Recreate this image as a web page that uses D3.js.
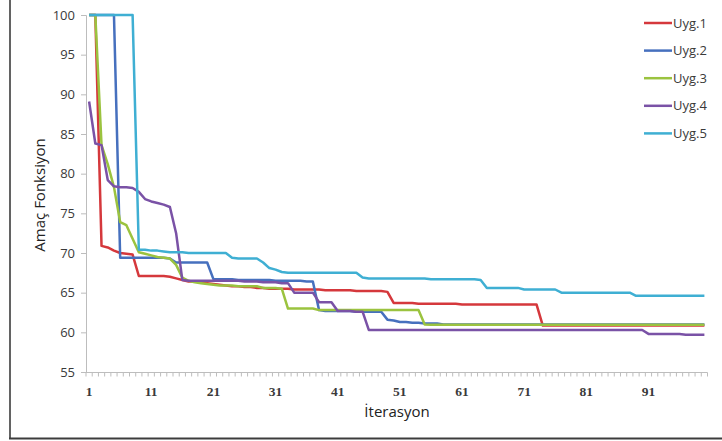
<!DOCTYPE html>
<html>
<head>
<meta charset="utf-8">
<script src="https://cdn.jsdelivr.net/npm/d3@7"></script>
<style>
  body { margin:0; background:#fff; }
  svg { display:block; }
</style>
</head>
<body>
<svg id="vis" width="722" height="441"></svg>
<script>
// iterations 1..100
var iters = d3.range(1, 101);
var xTickLabels = [1, 11, 21, 31, 41, 51, 61, 71, 81, 91];
var yTicks = [55, 60, 65, 70, 75, 80, 85, 90, 95, 100];
var seriesNames = ["Uyg.1", "Uyg.2", "Uyg.3", "Uyg.4", "Uyg.5"];
var seriesColors = ["#D5383C", "#4670BE", "#9BC33F", "#7A52A6", "#3FAFD3"];

var uyg1 = [100,100,70.9,70.7,70.3,70.0,69.9,69.8,67.1,67.1,
            67.1,67.1,67.1,67.0,66.8,66.6,66.4,66.4,66.3,66.2,
            66.1,66.0,65.9,65.8,65.8,65.7,65.7,65.6,65.6,65.5,
            65.5,65.5,65.5,65.4,65.4,65.4,65.4,65.4,65.3,65.3,
            65.3,65.3,65.3,65.2,65.2,65.2,65.2,65.2,65.1,63.7,
            63.7,63.7,63.7,63.6,63.6,63.6,63.6,63.6,63.6,63.6,
            63.5,63.5,63.5,63.5,63.5,63.5,63.5,63.5,63.5,63.5,
            63.5,63.5,63.5,60.85,60.85,60.85,60.85,60.85,60.85,60.85,
            60.85,60.85,60.85,60.85,60.85,60.85,60.85,60.85,60.85,60.85,
            60.85,60.85,60.85,60.85,60.85,60.85,60.85,60.85,60.85,60.85];

var uyg2 = [100,100,100,100,100,69.4,69.4,69.4,69.4,69.4,
            69.4,69.4,69.4,69.3,68.8,68.8,68.8,68.8,68.8,68.8,
            66.7,66.7,66.7,66.7,66.6,66.6,66.6,66.6,66.6,66.6,
            66.5,66.5,66.5,66.5,66.5,66.4,66.4,62.8,62.7,62.7,
            62.7,62.7,62.7,62.6,62.6,62.6,62.6,62.6,61.6,61.5,
            61.3,61.3,61.2,61.2,61.1,61.1,61.1,61.0,61.0,61.0,
            61.0,61.0,61.0,61.0,61.0,61.0,61.0,61.0,61.0,61.0,
            61.0,61.0,61.0,61.0,61.0,61.0,61.0,61.0,61.0,61.0,
            61.0,61.0,61.0,61.0,61.0,61.0,61.0,61.0,61.0,61.0,
            61.0,61.0,61.0,61.0,61.0,61.0,61.0,61.0,61.0,61.0];

var uyg3 = [100,100,83.6,81.2,78.3,73.9,73.5,71.8,70.1,69.9,
            69.7,69.5,69.4,69.3,68.5,66.9,66.5,66.3,66.2,66.1,
            66.0,65.9,65.9,65.9,65.8,65.8,65.8,65.8,65.6,65.6,
            65.6,65.5,63.0,63.0,63.0,63.0,63.0,62.8,62.8,62.8,
            62.8,62.8,62.8,62.8,62.8,62.8,62.8,62.8,62.8,62.8,
            62.8,62.8,62.8,62.8,61.0,60.95,60.95,60.95,60.95,60.95,
            60.95,60.95,60.95,60.95,60.95,60.95,60.95,60.95,60.95,60.95,
            60.95,60.95,60.95,60.95,60.95,60.95,60.95,60.95,60.95,60.95,
            60.95,60.95,60.95,60.95,60.95,60.95,60.95,60.95,60.95,60.95,
            60.95,60.95,60.95,60.95,60.95,60.95,60.95,60.95,60.95,60.95];

var uyg4 = [89.1,83.8,83.6,79.2,78.4,78.3,78.3,78.2,77.7,76.8,
            76.5,76.3,76.1,75.8,72.5,66.6,66.5,66.5,66.5,66.5,
            66.5,66.5,66.5,66.5,66.5,66.4,66.4,66.4,66.3,66.3,
            66.3,66.2,66.2,65.0,65.0,65.0,65.0,63.8,63.8,63.8,
            62.7,62.7,62.7,62.6,62.6,60.3,60.3,60.3,60.3,60.3,
            60.3,60.3,60.3,60.3,60.3,60.3,60.3,60.3,60.3,60.3,
            60.3,60.3,60.3,60.3,60.3,60.3,60.3,60.3,60.3,60.3,
            60.3,60.3,60.3,60.3,60.3,60.3,60.3,60.3,60.3,60.3,
            60.3,60.3,60.3,60.3,60.3,60.3,60.3,60.3,60.3,60.3,
            59.8,59.8,59.8,59.8,59.8,59.8,59.7,59.7,59.7,59.7];

var uyg5 = [100,100,100,100,100,100,100,100,70.4,70.4,
            70.3,70.3,70.2,70.1,70.1,70.1,70.0,70.0,70.0,70.0,
            70.0,70.0,70.0,69.4,69.3,69.3,69.3,69.3,68.8,68.1,
            67.9,67.6,67.5,67.5,67.5,67.5,67.5,67.5,67.5,67.5,
            67.5,67.5,67.5,67.5,66.9,66.8,66.8,66.8,66.8,66.8,
            66.8,66.8,66.8,66.8,66.8,66.7,66.7,66.7,66.7,66.7,
            66.7,66.7,66.7,66.6,65.6,65.6,65.6,65.6,65.6,65.6,
            65.4,65.4,65.4,65.4,65.4,65.4,65.0,65.0,65.0,65.0,
            65.0,65.0,65.0,65.0,65.0,65.0,65.0,65.0,64.6,64.6,
            64.6,64.6,64.6,64.6,64.6,64.6,64.6,64.6,64.6,64.6];

var seriesData = [uyg1, uyg2, uyg3, uyg4, uyg5];

var svg = d3.select("#vis");
var axisCol = "#bdbdbd", textCol = "#3a3a3a";

var x = d3.scaleBand().domain(iters).range([86, 707.5]).paddingInner(0).paddingOuter(0);
var y = d3.scaleLinear().domain([55, 100]).range([372, 15]);

// outer frame (left + bottom visible)
svg.append("line").attr("x1", 10).attr("x2", 10).attr("y1", 0).attr("y2", 439)
   .style("stroke", "#3c3c3c").style("stroke-width", 1.6);
svg.append("line").attr("x1", 9).attr("x2", 722).attr("y1", 438.5).attr("y2", 438.5)
   .style("stroke", "#3c3c3c").style("stroke-width", 1.8);

// y axis
var yAxis = d3.axisLeft(y).tickValues(yTicks).tickSize(5).tickPadding(6);
var gy = svg.append("g").attr("transform", "translate(86,0)").call(yAxis);
gy.select(".domain").style("stroke", axisCol);
gy.selectAll(".tick line").style("stroke", axisCol);
gy.selectAll("text").style("font-family", "'Open Sans', sans-serif").style("font-size", "13px").style("fill", textCol);

// x axis: minor tick at every band boundary
var gx = svg.append("g").attr("id", "xaxis");
gx.append("line").attr("x1", 86).attr("x2", 707.5).attr("y1", 372.5).attr("y2", 372.5).style("stroke", axisCol);
gx.selectAll("line.tk")
  .data(iters.concat([101]))
  .enter()
  .append("line")
  .attr("class", "tk")
  .attr("x1", function(d){ return d <= 100 ? x(d) : x(100) + x.bandwidth(); })
  .attr("x2", function(d){ return d <= 100 ? x(d) : x(100) + x.bandwidth(); })
  .attr("y1", 372.5).attr("y2", 376.5)
  .style("stroke", axisCol);
gx.selectAll("text")
  .data(xTickLabels)
  .enter()
  .append("text")
  .attr("x", function(d){ return x(d) + x.bandwidth()/2; })
  .attr("y", 395.5)
  .attr("text-anchor", "middle")
  .style("font-family", "'Liberation Serif', serif")
  .style("font-weight", "bold")
  .style("font-size", "13.5px")
  .style("fill", textCol)
  .text(function(d){ return d; });

// axis titles
svg.append("text")
   .attr("transform", "translate(45,195) rotate(-90)")
   .attr("text-anchor", "middle")
   .style("font-family", "'Open Sans', sans-serif").style("font-size", "15px").style("fill", "#222")
   .text("Amaç Fonksiyon");
svg.append("text")
   .attr("x", 397).attr("y", 417)
   .attr("text-anchor", "middle")
   .style("font-family", "'Open Sans', sans-serif").style("font-size", "15px").style("fill", "#222")
   .text("İterasyon");

// series lines
var line = d3.line()
   .x(function(d, i){ return x(iters[i]) + x.bandwidth()/2; })
   .y(function(d){ return y(d); });

svg.append("g").attr("id", "linesg").selectAll("path")
   .data(seriesData)
   .enter()
   .append("path")
   .attr("d", function(d){ return line(d); })
   .style("fill", "none")
   .style("stroke", function(d, i){ return seriesColors[i]; })
   .style("stroke-width", 2.5)
   .style("stroke-linejoin", "round");

// legend
var leg = svg.append("g").attr("id", "legendg").selectAll("g")
   .data(seriesNames)
   .enter()
   .append("g")
   .attr("transform", function(d, i){ return "translate(644," + (23 + i * 27.6) + ")"; });
leg.append("line").attr("x1", 0).attr("x2", 28).attr("y1", 0).attr("y2", 0)
   .style("stroke", function(d, i){ return seriesColors[i]; }).style("stroke-width", 2.5);
leg.append("text").attr("x", 29).attr("y", 4.5)
   .style("font-family", "'Open Sans', sans-serif").style("font-size", "13px").style("fill", textCol)
   .text(function(d){ return d; });
</script>
</body>
</html>
